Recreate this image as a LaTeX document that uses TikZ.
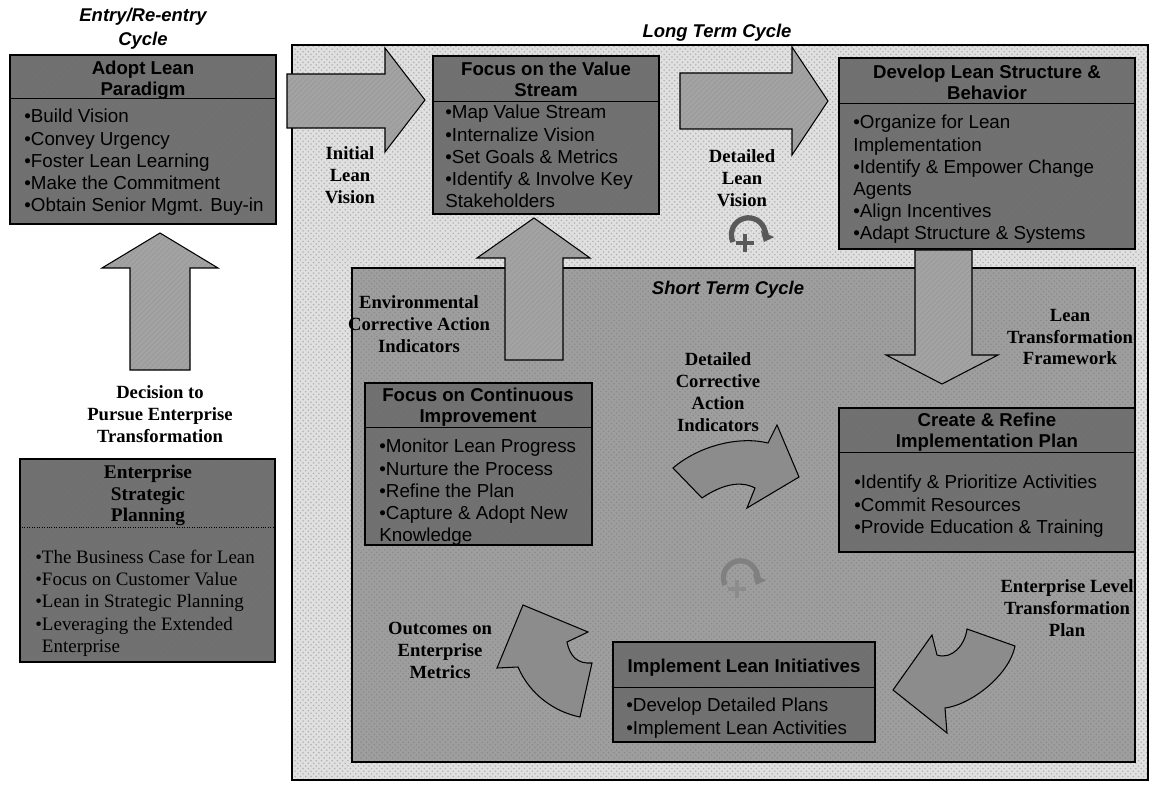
\documentclass[tikz,border=0pt]{standalone}
\usepackage{fontspec}
\setmainfont{Liberation Serif}
\setsansfont{Liberation Sans}
\usetikzlibrary{arrows.meta,patterns,fit}
\definecolor{boxgray}{gray}{0.44}
\definecolor{arrowgray}{gray}{0.64}
\definecolor{longgray}{gray}{0.88}
\definecolor{shortgray}{gray}{0.62}
\definecolor{curvegray}{gray}{0.55}

\begin{document}
\begin{tikzpicture}[x=0.02cm,y=-0.02cm,
    panel/.style={draw=black,line width=0.6pt,preaction={fill=boxgray},inner sep=0pt,
      pattern=north east lines,pattern color=black!55},
    blockarrow/.style={draw=black,line width=0.6pt,preaction={fill=arrowgray},
      pattern=north east lines,pattern color=black!40},
    bendarrow/.style={draw=black,line width=0.6pt,preaction={fill=curvegray},
      pattern=north east lines,pattern color=black!45},
    ttl/.style={anchor=north,inner sep=0pt,align=center,
      font=\sffamily\bfseries\fontsize{10.6}{12}\selectfont},
    items/.style={anchor=north west,inner sep=0pt,align=left,
      font=\sffamily\fontsize{10.7}{12.6}\selectfont},
    lbl/.style={inner sep=0pt,align=center,
      font=\rmfamily\bfseries\fontsize{10.6}{12.5}\selectfont},
    cyc/.style={inner sep=0pt,align=center,
      font=\sffamily\bfseries\itshape\fontsize{10.5}{13.5}\selectfont},
    turn/.style={line width=3pt,draw=black!65,-{Triangle[length=5pt,width=8pt]}}
  ]
  \useasboundingbox (0,0) rectangle (1156,787);

  % the two cycle regions
  \draw[line width=1.2pt,preaction={fill=longgray},
    pattern=crosshatch dots,pattern color=black!30]
    (292,45) rectangle (1148,780);
  \draw[line width=0.8pt,preaction={fill=shortgray},
    pattern=crosshatch dots,pattern color=black!45]
    (352,268) rectangle (1135,762);
  \node[cyc] (entrycyc) at (143,29) {Entry/Re-entry\\Cycle};
  \node[cyc] (longcyc) at (717,33) {Long Term Cycle};
  \node[cyc] (shortcyc) at (728,290) {Short Term Cycle};

  % entry cycle boxes
  \node[panel,fit={(10,55) (276,224)}] (adopt) {};
  \draw (adopt.west |- 0,98) -- (adopt.east |- 0,98);
  \node[ttl] (adoptT) at (143,61) {Adopt Lean\\Paradigm};
  \node[items] (adoptL) at (24,109) {•Build Vision\\•Convey Urgency\\
    •Foster Lean Learning\\•Make the Commitment\\•Obtain Senior Mgmt. Buy-in};

  \node[panel,fit={(20,459) (275,662)}] (esp) {};
  \draw[densely dotted] (esp.west |- 0,527) -- (esp.east |- 0,527);
  \node[ttl,font=\rmfamily\bfseries\fontsize{11}{12.3}\selectfont]
    (espT) at (148,465) {Enterprise\\Strategic\\Planning};
  \node[items,font=\rmfamily\fontsize{10.8}{12.6}\selectfont]
    (espL) at (35,550) {•The Business Case for Lean\\•Focus on Customer Value\\
    •Lean in Strategic Planning\\•Leveraging the Extended\\\hphantom{•}Enterprise};

  % long term cycle boxes
  \node[panel,fit={(433,56) (659,214)}] (vstream) {};
  \draw (vstream.west |- 0,101) -- (vstream.east |- 0,101);
  \node[ttl] (vstreamT) at (546,62) {Focus on the Value\\Stream};
  \node[items] (vstreamL) at (445,105) {•Map Value Stream\\•Internalize Vision\\
    •Set Goals \& Metrics\\•Identify \& Involve Key\\Stakeholders};

  \node[panel,fit={(839,58) (1135,249)}] (develop) {};
  \draw (develop.west |- 0,103) -- (develop.east |- 0,103);
  \node[ttl] (developT) at (987,65) {Develop Lean Structure \&\\Behavior};
  \node[items] (developL) at (853,115) {•Organize for Lean\\Implementation\\
    •Identify \& Empower Change\\Agents\\•Align Incentives\\•Adapt Structure \& Systems};

  % short term cycle boxes
  \node[panel,fit={(365,383) (592,545)}] (contimp) {};
  \draw (contimp.west |- 0,427) -- (contimp.east |- 0,427);
  \node[ttl] (contimpT) at (478,388) {Focus on Continuous\\Improvement};
  \node[items] (contimpL) at (379,439) {•Monitor Lean Progress\\•Nurture the Process\\
    •Refine the Plan\\•Capture \& Adopt New\\Knowledge};

  \node[panel,fit={(839,408) (1135,552)}] (plan) {};
  \draw (plan.west |- 0,452) -- (plan.east |- 0,452);
  \node[ttl] (planT) at (987,413) {Create \& Refine\\Implementation Plan};
  \node[items] (planL) at (854,475) {•Identify \& Prioritize Activities\\
    •Commit Resources\\•Provide Education \& Training};

  \node[panel,fit={(613,642) (875,742)}] (implement) {};
  \draw (implement.west |- 0,687) -- (implement.east |- 0,687);
  \node[ttl] (implementT) at (744,659) {Implement Lean Initiatives};
  \node[items] (implementL) at (626,698) {•Develop Detailed Plans\\•Implement Lean Activities};

  % straight block arrows
  \draw[blockarrow] (287,74) -- (385,74) -- (385,48) -- (425,100) -- (385,152)
    -- (385,128) -- (287,128) -- cycle;
  \draw[blockarrow] (680,73) -- (792,73) -- (792,47) -- (828,101) -- (792,155)
    -- (792,129) -- (680,129) -- cycle;
  \draw[blockarrow] (505,360) -- (505,258) -- (477,258) -- (534,218) -- (590,258)
    -- (563,258) -- (563,360) -- cycle;
  \draw[blockarrow] (915,250) -- (915,355) -- (886,355) -- (942,384) -- (998,355)
    -- (972,355) -- (972,250) -- cycle;
  \draw[blockarrow] (130,370) -- (130,268) -- (102,268) -- (160,233) -- (218,268)
    -- (190,268) -- (190,370) -- cycle;

  % bent block arrows
  \draw[bendarrow] (673,468) .. controls (700,445) and (740,436) .. (768,443)
    -- (777,425) -- (799,477) -- (747,508) -- (755,488)
    .. controls (740,480) and (721,485) .. (702,498) -- cycle;
  \draw[bendarrow] (932,635) -- (893,690) -- (947,733) -- (945,708)
    .. controls (970,705) and (1009,676) .. (1015,646) -- (967,629)
    .. controls (965,645) and (952,660) .. (937,655) -- cycle;
  \draw[bendarrow] (497,668) -- (523,605) -- (588,632) -- (567,642)
    .. controls (570,657) and (578,664) .. (592,663) -- (580,717)
    .. controls (555,712) and (530,695) .. (518,667) -- cycle;

  % turning symbols
  \draw[turn] (733,242) arc[start angle=155,end angle=385,radius=17];
  \draw[line width=2.4pt,black!65] (745,234) -- (745,252) (736,243) -- (754,243);
  \draw[turn,draw=black!50] (725,585) arc[start angle=155,end angle=385,radius=17];
  \draw[line width=2.4pt,black!45] (737,580) -- (737,598) (728,589) -- (746,589);

  % flow labels
  \node[lbl] (initvis) at (350,175) {Initial\\Lean\\Vision};
  \node[lbl] (detvis) at (742,178) {Detailed\\Lean\\Vision};
  \node[lbl] (envind) at (419,324) {Environmental\\Corrective Action\\Indicators};
  \node[lbl] (detind) at (718,392) {Detailed\\Corrective\\Action\\Indicators};
  \node[lbl] (ltframe) at (1070,337) {Lean\\Transformation\\Framework};
  \node[lbl] (elplan) at (1067,608) {Enterprise Level\\Transformation\\Plan};
  \node[lbl] (outcome) at (440,650) {Outcomes on\\Enterprise\\Metrics};
  \node[lbl] (decision) at (160,414) {Decision to\\Pursue Enterprise\\Transformation};
\end{tikzpicture}
\end{document}
